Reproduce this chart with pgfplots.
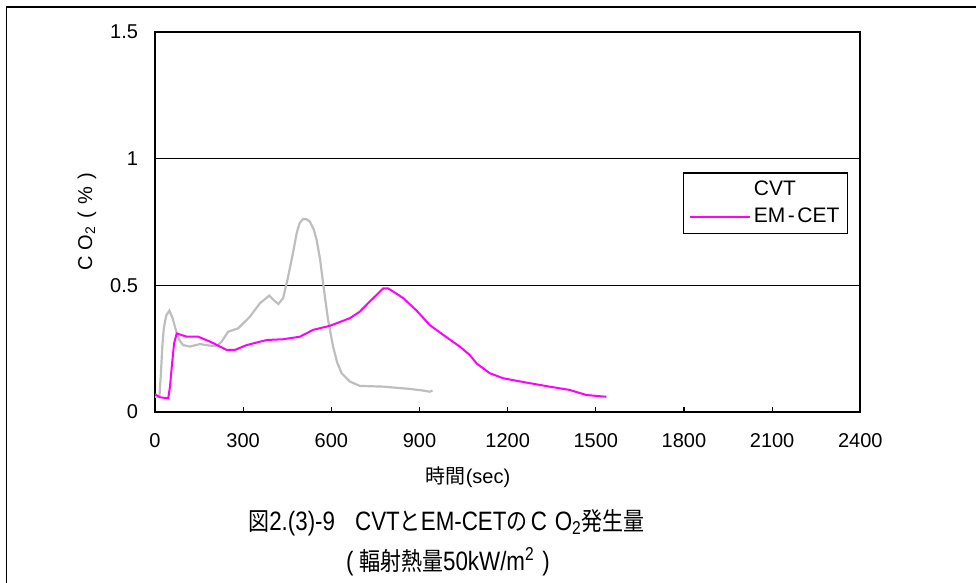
\documentclass[border=0pt]{standalone}
\usepackage{pgfplots}
\pgfplotsset{compat=1.18}
\usepackage{fontspec}
\setmainfont{Liberation Sans}
\newfontfamily\cjk{Noto Sans CJK JP}
\definecolor{cvtgray}{RGB}{190,190,190}
\definecolor{emmag}{RGB}{255,0,255}
\begin{document}
\begin{tikzpicture}
\path[use as bounding box] (0pt,0pt) rectangle (488pt,-291.5pt);
\draw[line width=0.8pt] (3.3pt,-291.5pt) -- (3.3pt,-3.5pt) -- (488pt,-3.5pt);
\begin{axis}[
  at={(77.5pt,-206pt)}, anchor=south west,
  scale only axis, width=352.65pt, height=190.15pt,
  xmin=0, xmax=2400, ymin=0, ymax=1.5,
  xtick={0,300,...,2400}, ytick={0,0.5,1,1.5},
  yticklabels={0,0.5,1,1.5},
  scaled ticks=false,
  /pgf/number format/assume math mode=true,
  /pgf/number format/set thousands separator={},
  tick label style={font=\fontsize{10}{12}\selectfont},
  xtick pos=bottom, ytick pos=left,
  tick align=inside,
  x tick style={black, line width=0.6pt},
  major tick length=2.5pt,
  y tick style={draw=none},
  xticklabel style={yshift=-7pt},
  yticklabel style={xshift=-5pt},
  ymajorgrids, grid style={black, line width=0.6pt},
  axis line style={black, line width=0.8pt},
  ylabel={C\hspace{0.3em}O\textsubscript{2}\hspace{0.4em}(\hspace{0.35em}\%\hspace{0.35em})},
  ylabel style={at={(axis description cs:-0.0964,0.5)}, anchor=center, font=\fontsize{10}{12}\selectfont},
  legend style={at={(0.749,0.630)}, anchor=north west, draw=black, line width=0.6pt,
    font=\fontsize{10.5}{12}\selectfont, inner xsep=2.5pt, inner ysep=2.5pt, row sep=1.5pt,
    nodes={inner sep=1.5pt}},
  legend cell align=left,
  legend image code/.code={\draw[#1] (0pt,0pt) -- (30pt,0pt);},
]
\addplot[cvtgray, line width=1.1pt, forget plot] coordinates {
(0,0.06) (15,0.06) (20,0.15) (25,0.26) (30,0.33) (38,0.38) (49,0.40) (60,0.37) (74,0.31)
(85,0.28) (96,0.264) (119,0.258) (153,0.268) (185,0.262) (210,0.26) (227,0.278) (249,0.317)
(283,0.33) (323,0.376) (357,0.429) (389,0.459) (405,0.44) (420,0.426) (436,0.449)
(453,0.534) (470,0.63) (482,0.705) (492,0.745) (504,0.761) (516,0.76) (527,0.751) (540,0.72)
(550,0.679) (562,0.60) (572,0.508) (589,0.363) (606,0.258) (620,0.195) (635,0.153) (663,0.12)
(697,0.103) (777,0.10) (867,0.091) (910,0.085) (935,0.08) (944,0.085)
};
\addlegendimage{white, draw opacity=0}
\addlegendentry{CVT}
\addplot[emmag, line width=1pt] coordinates {
(0,0.07) (17,0.058) (45,0.054) (51,0.10) (58,0.19) (65,0.271) (74,0.31) (108,0.297)
(147,0.297) (187,0.278) (244,0.245) (272,0.245) (312,0.264) (380,0.284) (436,0.287)
(493,0.297) (538,0.324) (595,0.34) (663,0.37) (697,0.396) (731,0.436) (777,0.488)
(793,0.488) (845,0.449) (890,0.40) (935,0.343) (981,0.304) (1037,0.258) (1071,0.225)
(1094,0.192) (1139,0.153) (1185,0.133) (1264,0.116) (1343,0.10) (1411,0.087)
(1468,0.067) (1536,0.06)
};
\addlegendentry{EM\kern0.12em-\kern0.12emCET}
\end{axis}
\node[font=\fontsize{10}{12}\selectfont] at (234pt,-238.5pt) {{\cjk 時間}(sec)};
\node[font=\fontsize{13.3}{15}\selectfont] at (223.25pt,-261.25pt) {\scalebox{0.84}[1]{{\cjk\fontsize{12.5}{15}\selectfont 図}2.(3)-9\hspace{0.9em}CVT{\cjk\fontsize{12.5}{15}\selectfont と}EM-CET{\cjk\fontsize{12.5}{15}\selectfont の}\hspace{0.15em}C\hspace{0.35em}O\textsubscript{2}{\cjk\fontsize{12.5}{15}\selectfont 発生量}}};
\node[font=\fontsize{13.3}{15}\selectfont] at (224pt,-280.85pt) {\scalebox{0.84}[1]{(\hspace{0.25em}{\cjk\fontsize{12.5}{15}\selectfont 輻射熱量}50kW/m\textsuperscript{2}\hspace{0.35em})}};
\end{tikzpicture}
\end{document}
